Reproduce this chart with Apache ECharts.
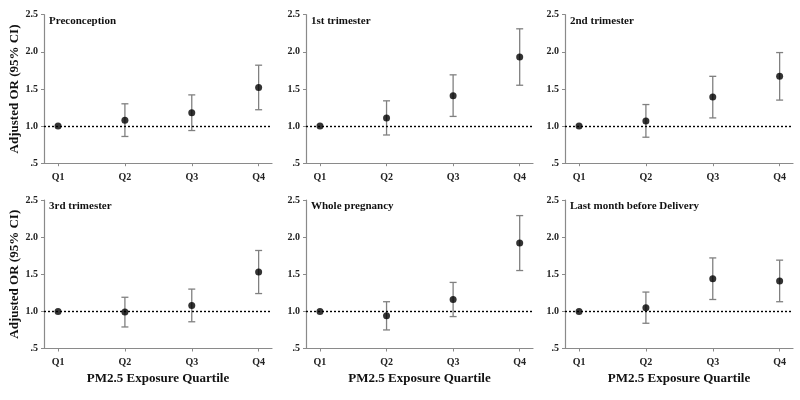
<!DOCTYPE html>
<html>
<head>
<meta charset="utf-8">
<script src="https://cdn.jsdelivr.net/npm/echarts@6/dist/echarts.min.js"></script>
<style>html,body{margin:0;padding:0;background:#fff}#c{width:800px;height:400px}</style>
</head>
<body>
<div id="c"></div>
<script>
const quartiles = ['Q1', 'Q2', 'Q3', 'Q4'];
const quartilePos = [1, 2, 3, 4];
const yTicks = [0.5, 1.0, 1.5, 2.0, 2.5];
const panelTitles = ['Preconception', '1st trimester', '2nd trimester', '3rd trimester', 'Whole pregnancy', 'Last month before Delivery'];

const orPre = [1.00, 1.08, 1.18, 1.52];
const lowPre = [null, 0.86, 0.94, 1.22];
const highPre = [null, 1.30, 1.42, 1.82];

const orT1 = [1.00, 1.11, 1.41, 1.93];
const lowT1 = [null, 0.88, 1.13, 1.55];
const highT1 = [null, 1.34, 1.69, 2.31];

const orT2 = [1.00, 1.07, 1.39, 1.67];
const lowT2 = [null, 0.85, 1.11, 1.35];
const highT2 = [null, 1.29, 1.67, 1.99];

const orT3 = [1.00, 0.99, 1.08, 1.53];
const lowT3 = [null, 0.79, 0.86, 1.24];
const highT3 = [null, 1.19, 1.30, 1.82];

const orWhole = [1.00, 0.94, 1.16, 1.92];
const lowWhole = [null, 0.75, 0.93, 1.55];
const highWhole = [null, 1.13, 1.39, 2.29];

const orLast = [1.00, 1.05, 1.44, 1.41];
const lowLast = [null, 0.84, 1.16, 1.13];
const highLast = [null, 1.26, 1.72, 1.69];

const panelOR = [orPre, orT1, orT2, orT3, orWhole, orLast];
const panelLow = [lowPre, lowT1, lowT2, lowT3, lowWhole, lowLast];
const panelHigh = [highPre, highT1, highT2, highT3, highWhole, highLast];

const FONT = '"Liberation Serif", "Times New Roman", serif';
const AXIS_COLOR = '#8a8a8a';
const BAR_COLOR = '#808080';

const gridLefts = [44, 306, 565];
const gridWidths = [228, 227, 228];
const gridTops = [14.7, 200];
const gridHeight = 148.5;

const grids = [], xAxes = [], yAxes = [], series = [], graphics = [];

for (let p = 0; p < 6; p++) {
  const col = p % 3, row = Math.floor(p / 3);
  grids.push({ left: gridLefts[col], top: gridTops[row], width: gridWidths[col], height: gridHeight, containLabel: false });
  xAxes.push({
    type: 'value', gridIndex: p, min: 0.79, max: 4.2,
    splitLine: { show: false },
    axisLine: { show: true, onZero: false, lineStyle: { color: AXIS_COLOR, width: 1.2 } },
    axisTick: { show: true, customValues: quartilePos, length: 3, lineStyle: { color: AXIS_COLOR } },
    axisLabel: {
      customValues: quartilePos, margin: 9,
      formatter: v => quartiles[quartilePos.indexOf(v)] || '',
      fontFamily: FONT, fontWeight: 'bold', fontSize: 10, color: '#222'
    },
    name: row === 1 ? 'PM2.5 Exposure Quartile' : '',
    nameLocation: 'middle', nameGap: 24,
    nameTextStyle: { fontFamily: FONT, fontWeight: 'bold', fontSize: 13, color: '#111' }
  });
  yAxes.push({
    type: 'value', gridIndex: p, min: 0.5, max: 2.5, interval: 0.5,
    splitLine: { show: false },
    axisLine: { show: true, onZero: false, lineStyle: { color: AXIS_COLOR, width: 1.2 } },
    axisTick: { show: true, length: 3, lineStyle: { color: AXIS_COLOR } },
    axisLabel: {
      margin: 6,
      formatter: v => (v === 0.5 ? '.5' : v.toFixed(1)),
      fontFamily: FONT, fontWeight: 'bold', fontSize: 10, color: '#222'
    },
    name: col === 0 ? 'Adjusted OR (95% CI)' : '',
    nameLocation: 'middle', nameGap: 23,
    nameTextStyle: { fontFamily: FONT, fontWeight: 'bold', fontSize: 13, color: '#111' }
  });

  const barData = [];
  for (let i = 0; i < quartiles.length; i++) {
    if (panelLow[p][i] != null) barData.push([quartilePos[i], panelLow[p][i], panelHigh[p][i]]);
  }
  series.push({
    type: 'custom', xAxisIndex: p, yAxisIndex: p, data: barData, z: 3,
    renderItem: (params, api) => {
      const lo = api.coord([api.value(0), api.value(1)]);
      const hi = api.coord([api.value(0), api.value(2)]);
      const hw = 3.5;
      const st = { stroke: BAR_COLOR, lineWidth: 1.3 };
      return { type: 'group', children: [
        { type: 'line', shape: { x1: lo[0], y1: lo[1], x2: hi[0], y2: hi[1] }, style: st },
        { type: 'line', shape: { x1: lo[0] - hw, y1: lo[1], x2: lo[0] + hw, y2: lo[1] }, style: st },
        { type: 'line', shape: { x1: hi[0] - hw, y1: hi[1], x2: hi[0] + hw, y2: hi[1] }, style: st }
      ]};
    }
  });
  series.push({
    type: 'scatter', xAxisIndex: p, yAxisIndex: p, z: 5,
    data: quartilePos.map((x, i) => [x, panelOR[p][i]]),
    symbol: 'circle', symbolSize: 7,
    itemStyle: { color: '#000' },
    markLine: {
      silent: true, symbol: 'none', label: { show: false },
      lineStyle: { color: '#000', type: [2, 2], width: 1.4 },
      data: [{ yAxis: 1 }]
    }
  });
  graphics.push({
    type: 'text', left: gridLefts[col] + 5, top: gridTops[row] + 1,
    style: { text: panelTitles[p], fontFamily: FONT, fontWeight: 'bold', fontSize: 11, fill: '#111' }
  });
}

const chart = echarts.init(document.getElementById('c'), null, { renderer: 'canvas' });
chart.setOption({
  animation: false,
  backgroundColor: '#fff',
  grid: grids, xAxis: xAxes, yAxis: yAxes, series: series, graphic: graphics
});
</script>
</body>
</html>
